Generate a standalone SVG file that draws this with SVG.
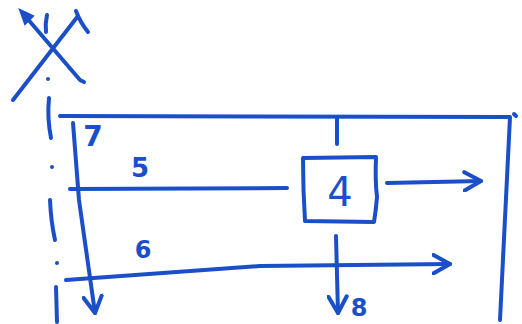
<svg xmlns="http://www.w3.org/2000/svg" width="522" height="324" viewBox="0 0 522 324">
<defs>
<style>
.s{fill:none;stroke:#1a4fc8;stroke-width:4;stroke-linecap:round;stroke-linejoin:round}
.t{fill:#1a4fc8;font-family:"DejaVu Sans","Liberation Sans",sans-serif}
.b{font-weight:bold}
</style>
<marker id="v" viewBox="0 0 12 12" refX="10" refY="6" markerWidth="5.5" markerHeight="5.5" orient="auto" markerUnits="strokeWidth">
<path d="M1,1 L10,6 L1,11" fill="none" stroke="#1a4fc8" stroke-width="2.2" stroke-linecap="round" stroke-linejoin="round"/>
</marker>
</defs>
<rect width="522" height="324" fill="#ffffff"/>
<g id="cross">
<path class="s" d="M13,100 L78,16 M76,11 Q80,22 88,32"/>
<path class="s" d="M84,82 L80,80 L26,17"/>
<path d="M20,10 L33,16 L25,24 Z" fill="#1a4fc8" stroke="#1a4fc8" stroke-width="2"/>
<path class="s" d="M47,15 Q45,24 46,32"/>
<circle cx="48" cy="79" r="2" fill="#1a4fc8"/>
</g>
<g id="frame">
<path class="s" d="M60,116 L510,117 L500,320"/>
<path class="s" d="M514,114 L516,116"/>
<path class="s" d="M49,98 Q47,118 51,138"/>
<circle cx="52" cy="167" r="2" fill="#1a4fc8"/>
<path class="s" d="M50,200 Q51,222 55,240"/>
<circle cx="57" cy="263" r="2" fill="#1a4fc8"/>
<path class="s" d="M56,287 L57,322"/>
</g>
<g id="node4">
<path class="s" d="M303,158 L376,157 Q375,180 377,197 Q376,210 374,222 L305,221 Q303,190 303,158 Z"/>
<text class="t" x="340" y="206" font-size="40" text-anchor="middle">4</text>
</g>
<g id="connectors">
<path class="s" d="M73,123 L79,200 L95,313" marker-end="url(#v)"/>
<path class="s" d="M70,189 L287,188"/>
<path class="s" d="M337,117 L337,144"/>
<path class="s" d="M387,183 L481,181" marker-end="url(#v)"/>
<path class="s" d="M66,280 L260,266 L450,264" marker-end="url(#v)"/>
<path class="s" d="M336,236 L338,313" marker-end="url(#v)"/>
</g>
<g id="labels">
<text class="t b" x="93" y="146" font-size="28" text-anchor="middle">7</text>
<text class="t b" x="140" y="177" font-size="26" text-anchor="middle">5</text>
<text class="t b" x="143" y="258" font-size="24" text-anchor="middle">6</text>
<text class="t b" x="359" y="316" font-size="24" text-anchor="middle">8</text>
</g>
</svg>
